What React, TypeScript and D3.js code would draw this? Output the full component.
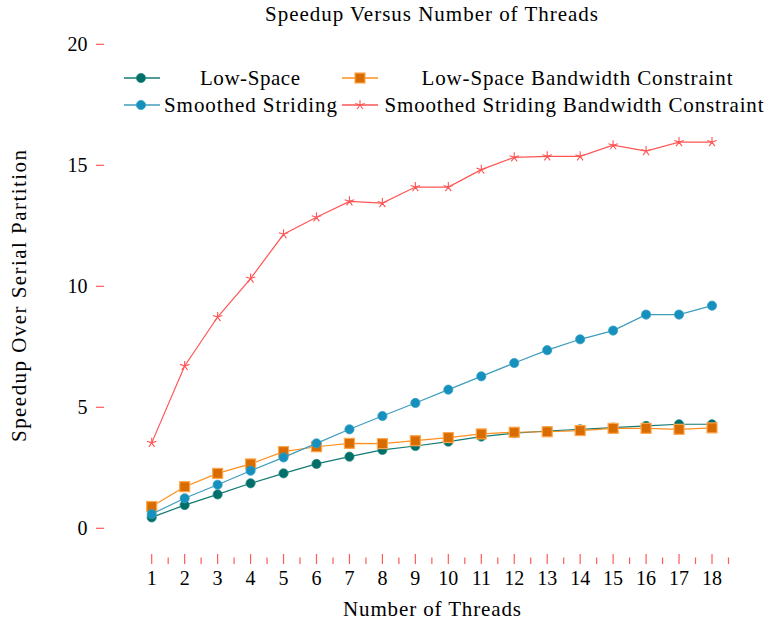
import React from "react";
import * as d3 from "d3";

const threads = [1, 2, 3, 4, 5, 6, 7, 8, 9, 10, 11, 12, 13, 14, 15, 16, 17, 18];
const lowSpace = [0.45, 0.96, 1.4, 1.86, 2.27, 2.66, 2.96, 3.24, 3.4, 3.58, 3.79, 3.93, 4.02, 4.09, 4.16, 4.23, 4.3, 4.3];
const lowSpaceBW = [0.9, 1.72, 2.27, 2.66, 3.17, 3.37, 3.51, 3.5, 3.62, 3.75, 3.9, 3.97, 3.99, 4.04, 4.13, 4.13, 4.09, 4.15];
const smoothed = [0.59, 1.24, 1.8, 2.38, 2.93, 3.51, 4.09, 4.64, 5.18, 5.73, 6.28, 6.83, 7.36, 7.81, 8.17, 8.83, 8.83, 9.2];
const smoothedBW = [3.53, 6.71, 8.73, 10.32, 12.15, 12.85, 13.51, 13.44, 14.1, 14.1, 14.82, 15.33, 15.37, 15.37, 15.83, 15.59, 15.96, 15.96];
const yTicks = [0, 5, 10, 15, 20];
const minorX = [1.5, 2.5, 3.5, 4.5, 5.5, 6.5, 7.5, 8.5, 9.5, 10.5, 11.5, 12.5, 13.5, 14.5, 15.5, 16.5, 17.5, 18.5];

const FONT = "Liberation Serif, DejaVu Serif, serif";
const TICK = "#ff5a5a";

type Mark = "circle" | "square" | "star";
interface Series { name: string; values: number[]; line: string; fill: string; edge: string; mark: Mark; }

const series: Series[] = [
  { name: "Low-Space", values: lowSpace, line: "#137a74", fill: "#006e69", edge: "#2a8a85", mark: "circle" },
  { name: "Low-Space Bandwidth Constraint", values: lowSpaceBW, line: "#ff8f1f", fill: "#d96c00", edge: "#ffa64d", mark: "square" },
  { name: "Smoothed Striding", values: smoothed, line: "#3f9cbd", fill: "#1690bc", edge: "#3aa0c5", mark: "circle" },
  { name: "Smoothed Striding Bandwidth Constraint", values: smoothedBW, line: "#ff5555", fill: "#ff5555", edge: "#ff5555", mark: "star" },
];

const x = d3.scaleLinear().domain([1, 18]).range([151.7, 712]);
const y = d3.scaleLinear().domain([0, 20]).range([528.3, 44.3]);

function Marker({ s, cx, cy }: { s: Series; cx: number; cy: number }) {
  if (s.mark === "circle") return <circle cx={cx} cy={cy} r={4.6} fill={s.fill} stroke={s.edge} strokeWidth={0.8} />;
  if (s.mark === "square") return <rect x={cx - 5} y={cy - 5} width={10} height={10} fill={s.fill} stroke={s.edge} strokeWidth={1.2} />;
  const r = 5;
  const arms = d3.range(5).map((i) => {
    const a = -Math.PI / 2 + (i * 2 * Math.PI) / 5;
    return `M${cx},${cy}L${cx + r * Math.cos(a)},${cy + r * Math.sin(a)}`;
  });
  return <path d={arms.join("")} stroke={s.fill} strokeWidth={1.1} fill="none" />;
}

export default function App() {
  const line = d3.line<number>().x((_, i) => x(threads[i])).y((v) => y(v));
  const legend = [
    { s: series[0], lx: 124, mx: 141, tx: 250, ty: 78, tl: 100 },
    { s: series[1], lx: 342, mx: 360, tx: 577, ty: 78, tl: 311 },
    { s: series[2], lx: 124, mx: 141, tx: 250.5, ty: 105, tl: 173 },
    { s: series[3], lx: 342, mx: 360, tx: 574, ty: 105, tl: 379 },
  ];
  return (
    <svg width={770} height={623} style={{ position: "absolute", left: 0, top: 0, background: "#fff", fontFamily: FONT }}>
      <text x={431.5} y={21} textAnchor="middle" fontSize={21} textLength={333} lengthAdjust="spacing">Speedup Versus Number of Threads</text>
      {yTicks.map((t) => (
        <g key={t}>
          <line x1={96} x2={104} y1={y(t)} y2={y(t)} stroke={TICK} strokeWidth={1.2} />
          <text x={87.5} y={y(t) + 6.5} textAnchor="end" fontSize={20}>{t}</text>
        </g>
      ))}
      {threads.map((t) => (
        <g key={t}>
          <line x1={x(t)} x2={x(t)} y1={554} y2={564} stroke={TICK} strokeWidth={1.2} />
          <text x={x(t)} y={585} textAnchor="middle" fontSize={20}>{t}</text>
        </g>
      ))}
      {minorX.map((t) => (
        <line key={t} x1={x(t)} x2={x(t)} y1={557.5} y2={564} stroke={TICK} strokeWidth={1.2} />
      ))}
      <text x={432} y={616} textAnchor="middle" fontSize={21} textLength={178} lengthAdjust="spacing">Number of Threads</text>
      <text transform="translate(26,296) rotate(-90)" textAnchor="middle" fontSize={21} textLength={292} lengthAdjust="spacing">Speedup Over Serial Partition</text>
      {series.map((s) => (
        <g key={s.name}>
          <path d={line(s.values) ?? ""} fill="none" stroke={s.line} strokeWidth={1.2} />
          {s.values.map((v, i) => <Marker key={i} s={s} cx={x(threads[i])} cy={y(v)} />)}
        </g>
      ))}
      {legend.map(({ s, lx, mx, tx, ty, tl }) => (
        <g key={s.name}>
          <line x1={lx} x2={lx + 36} y1={ty} y2={ty} stroke={s.line} strokeWidth={1.5} />
          <Marker s={s} cx={mx} cy={ty} />
          <text x={tx} y={ty + 6.5} textAnchor="middle" fontSize={21} textLength={tl} lengthAdjust="spacing">{s.name}</text>
        </g>
      ))}
    </svg>
  );
}
